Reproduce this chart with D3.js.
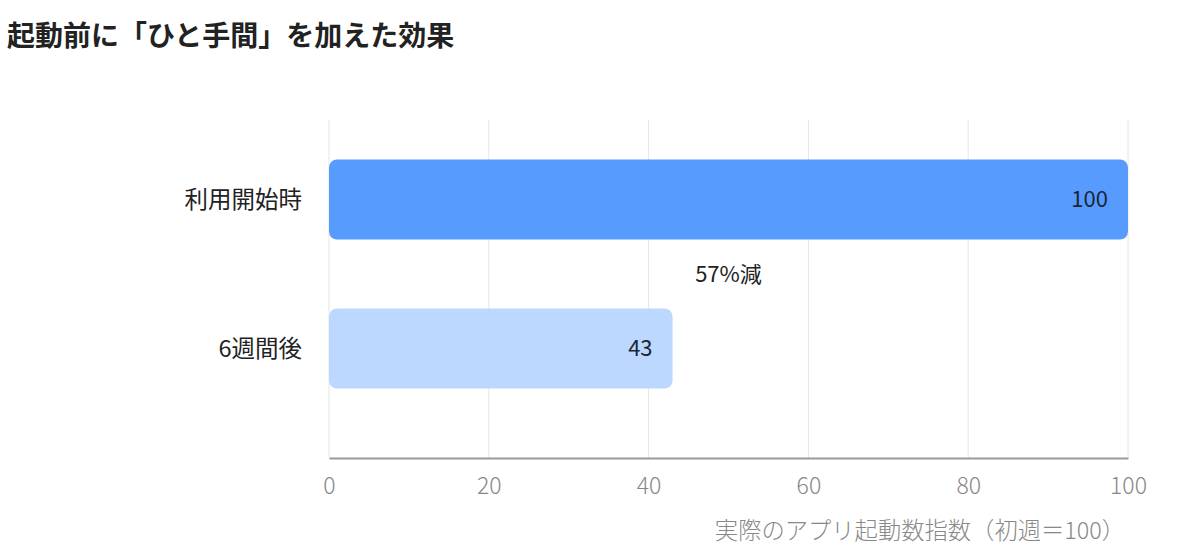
<!DOCTYPE html>
<html><head><meta charset="utf-8">
<script src="https://cdn.jsdelivr.net/npm/d3@7"></script>
<style>body{margin:0;background:#fff;font-family:"Noto Sans CJK JP","Noto Sans",sans-serif;}</style>
</head><body>
<svg id="c" width="1200" height="556"></svg>
<script>
const title = "起動前に「ひと手間」を加えた効果";
const categories = ["利用開始時", "6週間後"];
const values = [100, 43];
const barColors = ["#589BFF", "#BDD8FF"];
const xTicks = [0, 20, 40, 60, 80, 100];
const xAxisTitle = "実際のアプリ起動数指数（初週＝100）";
const annotation = "57%減";
const annotationAt = 50;

const svg = d3.select("#c");
const m = {left: 329, right: 1128, top: 120, bottom: 458};
const x = d3.scaleLinear().domain([0, 100]).range([m.left, m.right]);
const y = d3.scaleBand().domain(categories).range([m.top, 428]).paddingInner(0.463).paddingOuter(0.265);

svg.append("text").attr("x", 7).attr("y", 46).attr("font-size", 28).attr("font-weight", 700)
  .attr("fill", "#222").text(title);

// gridlines
svg.append("g").selectAll("line").data(xTicks).join("line")
  .attr("x1", d => x(d)).attr("x2", d => x(d)).attr("y1", m.top).attr("y2", m.bottom)
  .attr("stroke", "#e6e6e6").attr("stroke-width", 1);

// bars
svg.append("g").selectAll("rect").data(values).join("rect")
  .attr("x", x(0)).attr("y", (d, i) => y(categories[i]))
  .attr("width", d => x(d) - x(0)).attr("height", y.bandwidth())
  .attr("rx", 8).attr("fill", (d, i) => barColors[i]);

// value labels
svg.append("g").selectAll("text").data(values).join("text")
  .attr("x", d => x(d) - 20).attr("y", (d, i) => y(categories[i]) + y.bandwidth() / 2)
  .attr("dy", "0.35em").attr("text-anchor", "end").attr("font-size", 22)
  .attr("fill", "#1b2535").text(d => d);

// category labels
svg.append("g").selectAll("text").data(categories).join("text")
  .attr("x", 302).attr("y", d => y(d) + y.bandwidth() / 2).attr("dy", "0.35em")
  .attr("text-anchor", "end").attr("font-size", 23.5).attr("fill", "#222").text(d => d);

// x axis
const ax = svg.append("g").attr("transform", `translate(0,${m.bottom})`)
  .call(d3.axisBottom(x).tickValues(xTicks).tickSize(0).tickPadding(20));
ax.select(".domain").attr("stroke", "#999").attr("stroke-width", 2);
ax.selectAll("text").attr("font-size", 23).attr("font-weight", 300).attr("fill", "#888")
  .attr("font-family", "'Noto Sans CJK JP', sans-serif");

svg.append("text").attr("x", 1125).attr("y", 539).attr("text-anchor", "end")
  .attr("font-size", 23.3).attr("font-weight", 300).attr("fill", "#888").text(xAxisTitle);

// annotation
svg.append("text").attr("x", x(annotationAt)).attr("y", (y(categories[0]) + y.bandwidth() + y(categories[1])) / 2)
  .attr("dy", "0.35em").attr("text-anchor", "middle").attr("font-size", 22).attr("fill", "#222").text(annotation);
</script>
</body></html>
